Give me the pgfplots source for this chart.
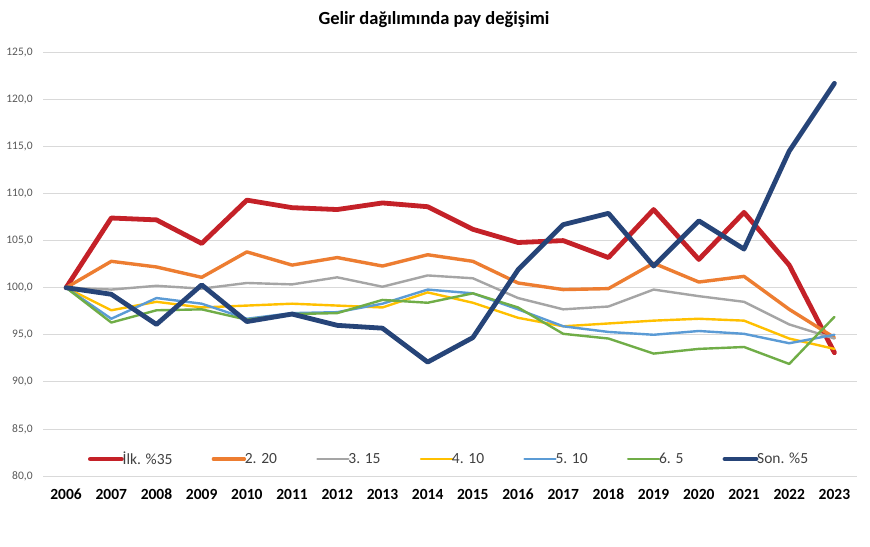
\documentclass[border=0pt]{standalone}
\usepackage{fontspec}
\setmainfont{Carlito}
\usepackage{pgfplots}
\pgfplotsset{compat=1.18}
\definecolor{cRed}{RGB}{196,33,40}
\definecolor{cOrange}{RGB}{237,125,49}
\definecolor{cGray}{RGB}{165,165,165}
\definecolor{cYellow}{RGB}{255,192,0}
\definecolor{cBlue}{RGB}{91,155,213}
\definecolor{cGreen}{RGB}{112,173,71}
\definecolor{cNavy}{RGB}{38,68,120}
\definecolor{gridc}{RGB}{217,217,217}
\definecolor{ticktext}{RGB}{89,89,89}
\definecolor{legtext}{RGB}{64,64,64}
\begin{document}
\begin{tikzpicture}
\fill[white] (0bp,0bp) rectangle (870bp,547bp);
\path[use as bounding box] (0bp,0bp) rectangle (870bp,547bp);
\begin{axis}[
  at={(43.5bp,71bp)}, anchor=south west,
  scale only axis, width=813.5bp, height=423.7bp,
  xmin=-0.5, xmax=17.5, ymin=80, ymax=125,
  ytick={80,85,90,95,100,105,110,115,120,125},
  xtick={0,1,2,3,4,5,6,7,8,9,10,11,12,13,14,15,16,17},
  xticklabels={2006,2007,2008,2009,2010,2011,2012,2013,2014,2015,2016,2017,2018,2019,2020,2021,2022,2023},
  axis line style={draw=none},
  major tick length=0pt,
  ymajorgrids,
  grid style={draw=gridc, line width=0.75bp},
  /pgf/number format/assume math mode=true,
  yticklabel style={/pgf/number format/.cd, fixed, fixed zerofill, precision=1, use comma, /tikz/.cd,
    font=\fontsize{11.5bp}{13bp}\selectfont, text=ticktext, xshift=-7.4bp},
  xticklabel style={font=\bfseries\fontsize{15.5bp}{17bp}\selectfont, text=black, yshift=-9.5bp},
  title={Gelir dağılımında pay değişimi},
  title style={font=\bfseries\fontsize{18.5bp}{22bp}\selectfont, text=black,
    at={(axis description cs:0.48,1)}, anchor=base, yshift=21.6bp},
  legend columns=7,
  legend style={at={(axis description cs:0.0547,0.040)}, anchor=west, draw=none, fill=none,
    inner sep=0pt, outer sep=0pt,
    font=\fontsize{15.5bp}{17bp}\selectfont, text=legtext,
    nodes={inner sep=0pt, outer sep=0pt},
    /tikz/every odd column/.append style={column sep=-1.2bp},
    /tikz/every even column/.append style={column sep=39.2bp}},
  legend image code/.code={\path (0bp,0bp) -- (31bp,0bp);
    \draw[#1,line cap=round] (2.4bp,0bp) -- (28.6bp,0bp);},
  every axis plot/.append style={line join=round, line cap=round, mark=none},
]
\addplot[cRed, line width=4.8bp] coordinates {
(0,100) (1,107.4) (2,107.2) (3,104.7) (4,109.3) (5,108.5) (6,108.3) (7,109.0) (8,108.6)
(9,106.2) (10,104.8) (11,105.0) (12,103.2) (13,108.3) (14,103.0) (15,108.0) (16,102.4) (17,93.1)};
\addlegendentry{İlk. \%35}
\addplot[cOrange, line width=3.4bp] coordinates {
(0,100) (1,102.8) (2,102.2) (3,101.1) (4,103.8) (5,102.4) (6,103.2) (7,102.3) (8,103.5)
(9,102.8) (10,100.5) (11,99.8) (12,99.9) (13,102.6) (14,100.6) (15,101.2) (16,97.7) (17,94.7)};
\addlegendentry{2. 20}
\addplot[cGray, line width=2.4bp] coordinates {
(0,100) (1,99.8) (2,100.2) (3,99.9) (4,100.5) (5,100.35) (6,101.1) (7,100.1) (8,101.3)
(9,101.0) (10,98.9) (11,97.7) (12,98.0) (13,99.8) (14,99.1) (15,98.5) (16,96.1) (17,94.6)};
\addlegendentry{3. 15}
\addplot[cYellow, line width=2.4bp] coordinates {
(0,100) (1,97.6) (2,98.5) (3,97.9) (4,98.1) (5,98.3) (6,98.1) (7,97.9) (8,99.5)
(9,98.4) (10,96.8) (11,95.9) (12,96.2) (13,96.5) (14,96.7) (15,96.5) (16,94.6) (17,93.5)};
\addlegendentry{4. 10}
\addplot[cBlue, line width=2.4bp] coordinates {
(0,100) (1,96.7) (2,98.9) (3,98.3) (4,96.7) (5,97.3) (6,97.4) (7,98.3) (8,99.8)
(9,99.4) (10,97.7) (11,95.9) (12,95.3) (13,95.0) (14,95.4) (15,95.1) (16,94.1) (17,95.0)};
\addlegendentry{5. 10}
\addplot[cGreen, line width=2.4bp] coordinates {
(0,100) (1,96.3) (2,97.6) (3,97.7) (4,96.6) (5,97.2) (6,97.3) (7,98.7) (8,98.4)
(9,99.4) (10,97.9) (11,95.1) (12,94.6) (13,93.0) (14,93.5) (15,93.7) (16,91.9) (17,96.9)};
\addlegendentry{6. 5}
\addplot[cNavy, line width=4.8bp] coordinates {
(0,100) (1,99.3) (2,96.1) (3,100.3) (4,96.4) (5,97.2) (6,96.0) (7,95.7) (8,92.1)
(9,94.7) (10,101.9) (11,106.7) (12,107.9) (13,102.3) (14,107.1) (15,104.1) (16,114.5) (17,121.7)};
\addlegendentry{Son. \%5}
\end{axis}
\end{tikzpicture}
\end{document}
